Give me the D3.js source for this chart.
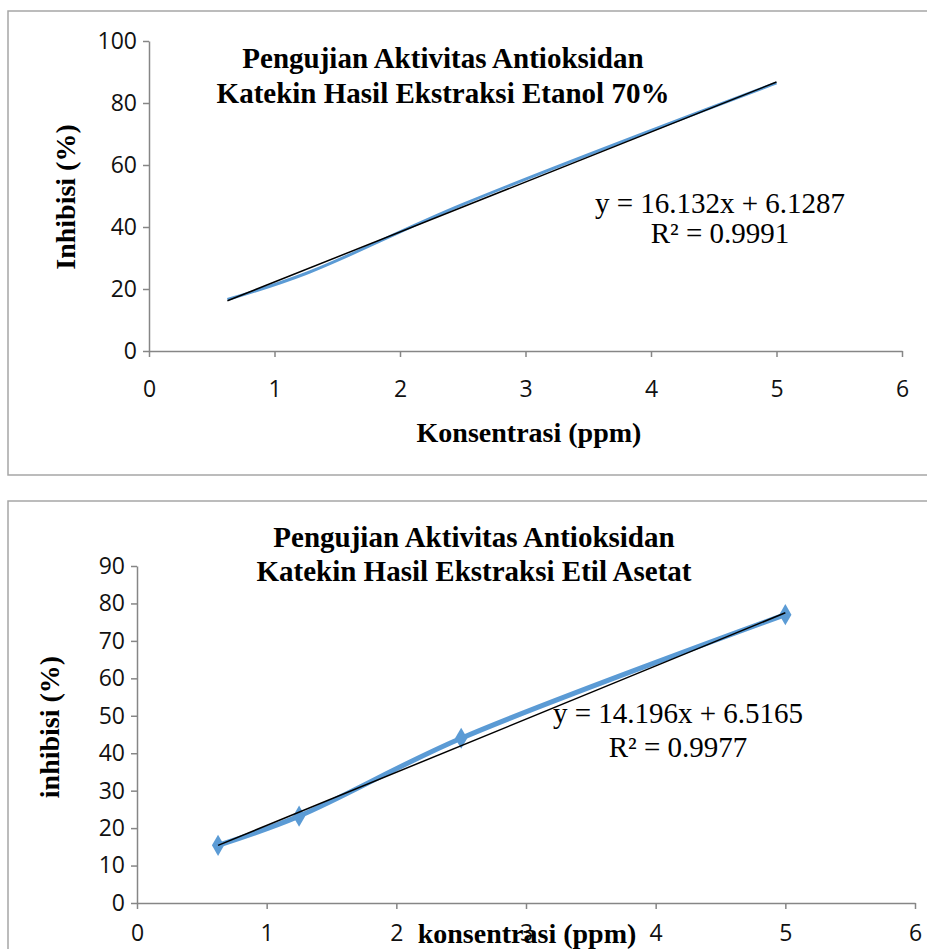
<!DOCTYPE html>
<html>
<head>
<meta charset="utf-8">
<script src="https://cdn.jsdelivr.net/npm/d3@7"></script>
<style>
  body { margin: 0; background: #fff; }
  svg { display: block; }
</style>
</head>
<body>
<div id="my_dataviz"></div>
<script>
// data
var konsentrasi = [0.625, 1.25, 2.5, 5];
var inhibisiEtanol = [16.6, 25.0, 47.3, 86.5];
var inhibisiEtil = [15.4, 23.2, 44.0, 77.0];

var trendEtanol = {slope: 16.132, intercept: 6.1287, label: "y = 16.132x + 6.1287", r2: "R\u00b2 = 0.9991"};
var trendEtil = {slope: 14.196, intercept: 6.5165, label: "y = 14.196x + 6.5165", r2: "R\u00b2 = 0.9977"};

var xTicks = [0, 1, 2, 3, 4, 5, 6];
var yTicksEtanol = [0, 20, 40, 60, 80, 100];
var yTicksEtil = [0, 10, 20, 30, 40, 50, 60, 70, 80, 90];

var serif = "'Liberation Serif', 'Times New Roman', serif";
var sans = "'Open Sans', 'Liberation Sans', sans-serif";
var blue = "#5b9bd5";

var svg = d3.select("#my_dataviz")
  .append("svg")
  .attr("width", 927)
  .attr("height", 949);

function drawChart(opt) {
  var g = svg.append("g");

  // chart frame (right / bottom edges run off the page)
  g.append("rect")
    .attr("x", opt.frame[0]).attr("y", opt.frame[1])
    .attr("width", opt.frame[2]).attr("height", opt.frame[3])
    .attr("fill", "none").attr("stroke", "#a6a6a6").attr("stroke-width", 1.5);

  var x = d3.scaleLinear().domain([0, 6]).range(opt.xRange);
  var y = d3.scaleLinear().domain(opt.yDomain).range(opt.yRange);

  var xAxis = g.append("g")
    .attr("transform", "translate(0," + opt.yRange[0] + ")")
    .call(d3.axisBottom(x).tickValues(xTicks).tickFormat(d3.format("d"))
      .tickSize(6).tickSizeOuter(0).tickPadding(opt.xPad));
  var yAxis = g.append("g")
    .attr("transform", "translate(" + opt.xRange[0] + ",0)")
    .call(d3.axisLeft(y).tickValues(opt.yTicks).tickFormat(d3.format("d"))
      .tickSize(6).tickSizeOuter(0).tickPadding(6));

  [xAxis, yAxis].forEach(function(a) {
    a.selectAll("path, line").attr("stroke", "#868686").attr("stroke-width", 1.5);
    a.selectAll("text").style("font-family", sans).style("font-size", "23px").attr("fill", "#111");
  });

  var pts = konsentrasi.map(function(k, i) { return [k, opt.values[i]]; });

  // measured series, smoothed like the spreadsheet line
  var line = d3.line()
    .x(function(d) { return x(d[0]); })
    .y(function(d) { return y(d[1]); })
    .curve(d3.curveCatmullRom.alpha(0.5));

  g.append("path")
    .datum(pts)
    .attr("d", line)
    .attr("fill", "none")
    .attr("stroke", blue)
    .attr("stroke-width", opt.lineWidth)
    .attr("stroke-linejoin", "round");

  if (opt.markers) {
    g.selectAll(".dot")
      .data(pts)
      .enter()
      .append("path")
      .attr("d", d3.symbol().type(d3.symbolDiamond).size(130))
      .attr("transform", function(d) { return "translate(" + x(d[0]) + "," + y(d[1]) + ")"; })
      .attr("fill", blue);
  }

  // linear trendline
  var x1 = d3.min(konsentrasi), x2 = d3.max(konsentrasi);
  g.append("line")
    .attr("x1", x(x1)).attr("y1", y(opt.trend.slope * x1 + opt.trend.intercept))
    .attr("x2", x(x2)).attr("y2", y(opt.trend.slope * x2 + opt.trend.intercept))
    .attr("stroke", "#000")
    .attr("stroke-width", 1.5);

  // title
  var t = g.append("text")
    .attr("text-anchor", "middle")
    .style("font-family", serif).style("font-size", "29px").style("font-weight", "bold");
  opt.title.forEach(function(s, i) {
    t.append("tspan").attr("x", opt.titlePos[0]).attr("y", opt.titlePos[1] + i * opt.titleGap).text(s);
  });

  // equation
  var e = g.append("text")
    .attr("text-anchor", "middle")
    .style("font-family", serif).style("font-size", "29px");
  e.append("tspan").attr("x", opt.eqPos[0]).attr("y", opt.eqPos[1]).text(opt.trend.label);
  e.append("tspan").attr("x", opt.eqPos[0]).attr("y", opt.eqPos[1] + opt.eqGap).text(opt.trend.r2);

  // axis titles
  g.append("text")
    .attr("text-anchor", "middle")
    .attr("x", opt.xTitlePos[0]).attr("y", opt.xTitlePos[1])
    .style("font-family", serif).style("font-size", "28px").style("font-weight", "bold")
    .text(opt.xTitle);

  g.append("text")
    .attr("text-anchor", "middle")
    .attr("transform", "translate(" + opt.yTitlePos[0] + "," + opt.yTitlePos[1] + ") rotate(-90)")
    .style("font-family", serif).style("font-size", "28px").style("font-weight", "bold")
    .text(opt.yTitle);
}

drawChart({
  frame: [8, 11, 940, 464],
  xRange: [149, 902],
  yRange: [351, 41],
  yDomain: [0, 100],
  yTicks: yTicksEtanol,
  xPad: 24,
  values: inhibisiEtanol,
  lineWidth: 3,
  markers: false,
  trend: trendEtanol,
  title: ["Pengujian Aktivitas Antioksidan", "Katekin Hasil Ekstraksi Etanol 70%"],
  titlePos: [443, 68],
  titleGap: 35,
  eqPos: [720, 213],
  eqGap: 30,
  xTitle: "Konsentrasi (ppm)",
  xTitlePos: [529, 442],
  yTitle: "Inhibisi (%)",
  yTitlePos: [75, 197]
});

drawChart({
  frame: [8, 501, 940, 470],
  xRange: [137, 915],
  yRange: [903, 566],
  yDomain: [0, 90],
  yTicks: yTicksEtil,
  xPad: 16,
  values: inhibisiEtil,
  lineWidth: 5,
  markers: true,
  trend: trendEtil,
  title: ["Pengujian Aktivitas Antioksidan", "Katekin Hasil Ekstraksi Etil Asetat"],
  titlePos: [474, 547],
  titleGap: 34,
  eqPos: [678, 723],
  eqGap: 34,
  xTitle: "konsentrasi (ppm)",
  xTitlePos: [527, 943],
  yTitle: "inhibisi (%)",
  yTitlePos: [59, 727]
});
</script>
</body>
</html>
